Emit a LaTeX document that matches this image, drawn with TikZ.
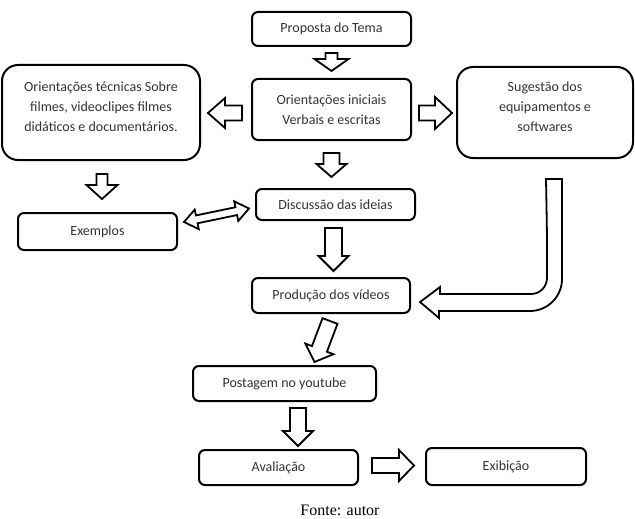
\documentclass[tikz,border=0pt]{standalone}
\usepackage{fontspec}
\setmainfont{Carlito}
\newfontfamily\fontefont{Liberation Serif}
\usetikzlibrary{calc}

\tikzset{
    caixa/.style={draw, line width=2pt, rounded corners=6pt, align=center, text=black!80, inner sep=2pt},
    caixagrande/.style={caixa, rounded corners=16pt},
    seta/.style={draw, fill=white, line width=1.8pt, line join=miter},
}

% block arrow: start, end, half shaft, half head, head length
\newcommand{\barrow}[5]{%
    \draw[seta] let \p1=(#1), \p2=(#2),
        \n1={atan2(\y2-\y1,\x2-\x1)}, \n2={veclen(\x2-\x1,\y2-\y1)-#5pt} in
        ($(\p1)+(\n1+90:#3pt)$) -- ($(\p1)+(\n1:\n2)+(\n1+90:#3pt)$)
        -- ($(\p1)+(\n1:\n2)+(\n1+90:#4pt)$) -- (\p2)
        -- ($(\p1)+(\n1:\n2)+(\n1-90:#4pt)$) -- ($(\p1)+(\n1:\n2)+(\n1-90:#3pt)$)
        -- ($(\p1)+(\n1-90:#3pt)$) -- cycle;}
% double block arrow
\newcommand{\dbarrow}[5]{%
    \draw[seta] let \p1=(#1), \p2=(#2),
        \n1={atan2(\y2-\y1,\x2-\x1)}, \n2={veclen(\x2-\x1,\y2-\y1)-#5pt} in
        (\p1) -- ($(\p1)+(\n1:#5pt)+(\n1+90:#4pt)$) -- ($(\p1)+(\n1:#5pt)+(\n1+90:#3pt)$)
        -- ($(\p1)+(\n1:\n2)+(\n1+90:#3pt)$) -- ($(\p1)+(\n1:\n2)+(\n1+90:#4pt)$)
        -- (\p2)
        -- ($(\p1)+(\n1:\n2)+(\n1-90:#4pt)$) -- ($(\p1)+(\n1:\n2)+(\n1-90:#3pt)$)
        -- ($(\p1)+(\n1:#5pt)+(\n1-90:#3pt)$) -- ($(\p1)+(\n1:#5pt)+(\n1-90:#4pt)$)
        -- cycle;}

\begin{document}
\begin{tikzpicture}[x=1pt, y=-1pt, font=\fontsize{14}{20}\selectfont]
    \useasboundingbox (0,0) rectangle (635,519);

    % boxes
    \node[caixa, minimum width=159pt, minimum height=34pt] (tema) at (331.5,29) {Proposta do Tema};
    \node[caixa, minimum width=159pt, minimum height=61pt] (inic) at (331.5,109.5) {Orientações iniciais\\Verbais e escritas};
    \node[caixagrande, minimum width=198pt, minimum height=95pt] (tecn) at (101,112.5) {Orientações técnicas Sobre\\filmes, videoclipes filmes\\didáticos e documentários.\\[-8pt]\mbox{}};
    \node[caixagrande, minimum width=176pt, minimum height=91pt] (sug) at (545,112.5) {Sugestão dos\\equipamentos e\\softwares\\[-8pt]\mbox{}};
    \node[caixa, minimum width=159pt, minimum height=31pt] (disc) at (335.5,204.5) {Discussão das ideias};
    \node[caixa, minimum width=159pt, minimum height=37pt] (exem) at (97.5,231.5) {Exemplos};
    \node[caixa, minimum width=158pt, minimum height=35pt] (prod) at (331,295.5) {Produção dos vídeos};
    \node[caixa, minimum width=183pt, minimum height=35pt] (post) at (284.5,383.5) {Postagem no youtube};
    \node[caixa, minimum width=159pt, minimum height=35pt] (aval) at (278.5,467.5) {Avaliação};
    \node[caixa, minimum width=160pt, minimum height=37pt] (exib) at (506,466.5) {Exibição};
    \node[font=\fontefont\fontsize{16}{19}\selectfont] (fonte) at (340,510) {Fonte: autor};

    % arrows
    \barrow{$(tema.south)+(0,6)$}{$(inic.north)+(0,-7)$}{6}{17}{12}
    \barrow{$(inic.west)+(-9,3.5)$}{$(tecn.east)+(7,0.5)$}{7.5}{15}{17}
    \barrow{$(inic.east)+(7,3.5)$}{$(sug.west)+(-4,0.5)$}{7.5}{16}{17}
    \barrow{$(inic.south)+(0,12)$}{$(disc.north)+(-4,-11)$}{8}{15}{13}
    \barrow{$(tecn.south)+(1,13)$}{$(exem.north)+(4.5,-13)$}{5.5}{15.5}{14}
    \dbarrow{$(exem.east)+(6,-9.5)$}{$(disc.west)+(-6,4)$}{4}{10}{13}
    \barrow{$(disc.south)+(-2,7)$}{$(prod.north)+(2.5,-6)$}{8.5}{15}{15}
    \draw[seta] ($(sug.south)+(1,20)$) -- ++(16,0) [rounded corners=32pt] -- ++(0,132) -- ++(-62,0)
        [sharp corners] -- ++(-61,0) -- ++(0,7) -- ($(prod.east)+(9,6.5)$) -- ++(20,-15) -- ++(0,7)
        -- ++(61,0) [rounded corners=16pt] -- ++(46,0) -- ++(0,-60) [sharp corners] -- cycle;
    \barrow{$(prod.south)+(-1,7)$}{$(post.north)+(30,-3)$}{8}{15}{14}
    \barrow{$(post.south)+(13.5,6)$}{$(aval.north)+(19.5,-3)$}{8}{15}{15}
    \barrow{$(aval.east)+(13,-2)$}{$(exib.west)+(-11,-1)$}{7.5}{15.5}{15}
\end{tikzpicture}
\end{document}
